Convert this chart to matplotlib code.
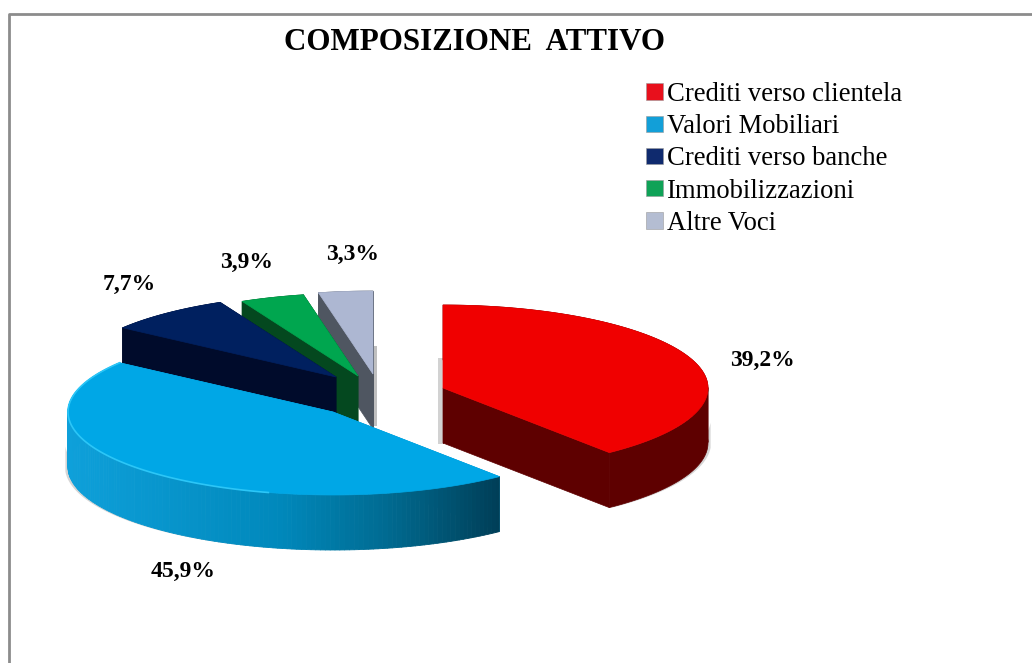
import numpy as np
import matplotlib
matplotlib.use("Agg")
import matplotlib.pyplot as plt
from matplotlib.collections import PolyCollection
from matplotlib.colors import LinearSegmentedColormap
from matplotlib.patches import Patch, Rectangle

title = "COMPOSIZIONE  ATTIVO"
labels = ["Crediti verso clientela", "Valori Mobiliari", "Crediti verso banche",
          "Immobilizzazioni", "Altre Voci"]
shares = [39.2, 45.9, 7.7, 3.9, 3.3]
share_text = ["39,2%", "45,9%", "7,7%", "3,9%", "3,3%"]

top_colors = ["#f00000", "#00a7e6", "#00205f", "#00a64f", "#adb7d2"]
wall_colors = ["#5e0000", "#0098d0", "#000b2b", "#04481f", "#4f5661"]
legend_colors = ["#e8101c", "#129fd8", "#0f2a6e", "#0fa257", "#b4bdd2"]

# apex of every exploded slice, in pixels
apex_x = [443, 333, 336, 358, 373]
apex_y = [388, 412, 377, 376, 374]
label_x = [762, 183, 129, 247, 353]
label_y = [360, 571, 284, 262, 254]

rx, ry, depth = 265, 83, 55

plt.rcParams["font.family"] = ["Liberation Serif", "DejaVu Serif"]
fig = plt.figure(figsize=(10.32, 6.63), dpi=100)
ax = fig.add_axes([0, 0, 1, 1])
ax.set_xlim(0, 1032)
ax.set_ylim(663, 0)
ax.axis("off")

ax.plot([8.5, 8.5, 1032], [663, 13.5, 13.5], color="#8c8c8c", lw=2, solid_capstyle="butt")

blue_wall = LinearSegmentedColormap.from_list(
    "blue_wall", [(0, "#0ea0da"), (0.5, "#0088bb"), (0.75, "#006a90"), (1, "#003f58")])

edges = np.cumsum([0] + shares) / 100 * 2 * np.pi


def arc(i, n=160):
    t = np.linspace(edges[i], edges[i + 1], n)
    return apex_x[i] + rx * np.sin(t), apex_y[i] - ry * np.cos(t)


def shadow(i, dx):
    x, y = arc(i)
    front = np.cos(np.linspace(edges[i], edges[i + 1], len(x))) < -0.05
    xs = np.r_[x[front] + dx, x[front][::-1] + dx]
    ys = np.r_[y[front] + depth, y[front][::-1] + 30]
    ax.fill(xs, ys, color="#c4c4c4", alpha=0.7, lw=0, zorder=1)


def draw_slice(i, z):
    x, y = arc(i)
    ax0, ay0 = apex_x[i], apex_y[i]
    # cut faces first, then the rim, then the top
    for j in (0, -1):
        ax.fill([ax0, x[j], x[j], ax0], [ay0, y[j], y[j] + depth, ay0 + depth],
                color=wall_colors[i], lw=0.5, zorder=z)
    if i == 1:
        quads = [[(x[k], y[k]), (x[k + 1], y[k + 1]), (x[k + 1], y[k + 1] + depth), (x[k], y[k] + depth)]
                 for k in range(len(x) - 1)]
        shade = blue_wall((x[:-1] - x.min()) / (x.max() - x.min()))
        ax.add_collection(PolyCollection(quads, facecolors=shade, edgecolors=shade, linewidths=0.6, zorder=z))
    else:
        # split at the widest point, the band would cross itself there
        k = np.argmax(x)
        for xs, ys in ((x[:k + 1], y[:k + 1]), (x[k:], y[k:])):
            ax.fill(np.r_[xs, xs[::-1]], np.r_[ys, ys[::-1] + depth], color=wall_colors[i], lw=0.5, zorder=z)
    ax.fill(np.r_[ax0, x], np.r_[ay0, y], color=top_colors[i], lw=0.5, zorder=z + 0.1)


# soft shadows behind the slices
ax.add_patch(Rectangle((438, 358), 6, 86, color="#d2d2d2", lw=0, zorder=1))
ax.add_patch(Rectangle((373, 346), 4, 80, color="#bfbfbf", lw=0, zorder=1))
shadow(0, 3)
shadow(1, -3)

for z, i in enumerate([4, 3, 2, 0, 1]):
    draw_slice(i, z + 2)

# light rim on the front of the blue slice
xb, yb = arc(1)
keep = xb < 270
ax.plot(xb[keep], yb[keep], color="#2cc6f7", lw=1.2, zorder=7)

for i in range(len(shares)):
    ax.text(label_x[i], label_y[i], share_text[i], ha="center", va="center",
            fontsize=17, fontweight="bold", color="black", zorder=8)

ax.text(474, 43, title, ha="center", va="center", fontsize=22.3, fontweight="bold", color="black")

handles = [Patch(facecolor=c, edgecolor="#9a9a9a", linewidth=0.4) for c in legend_colors]
ax.legend(handles, labels, loc="upper left", bbox_to_anchor=(646 / 1032, 1 - 82 / 663), frameon=False,
          fontsize=19.2, handlelength=0.64, handleheight=0.57, handletextpad=0.16,
          labelspacing=0.27, borderpad=0, borderaxespad=0)

fig.savefig("out.png", dpi=100, facecolor="white")
